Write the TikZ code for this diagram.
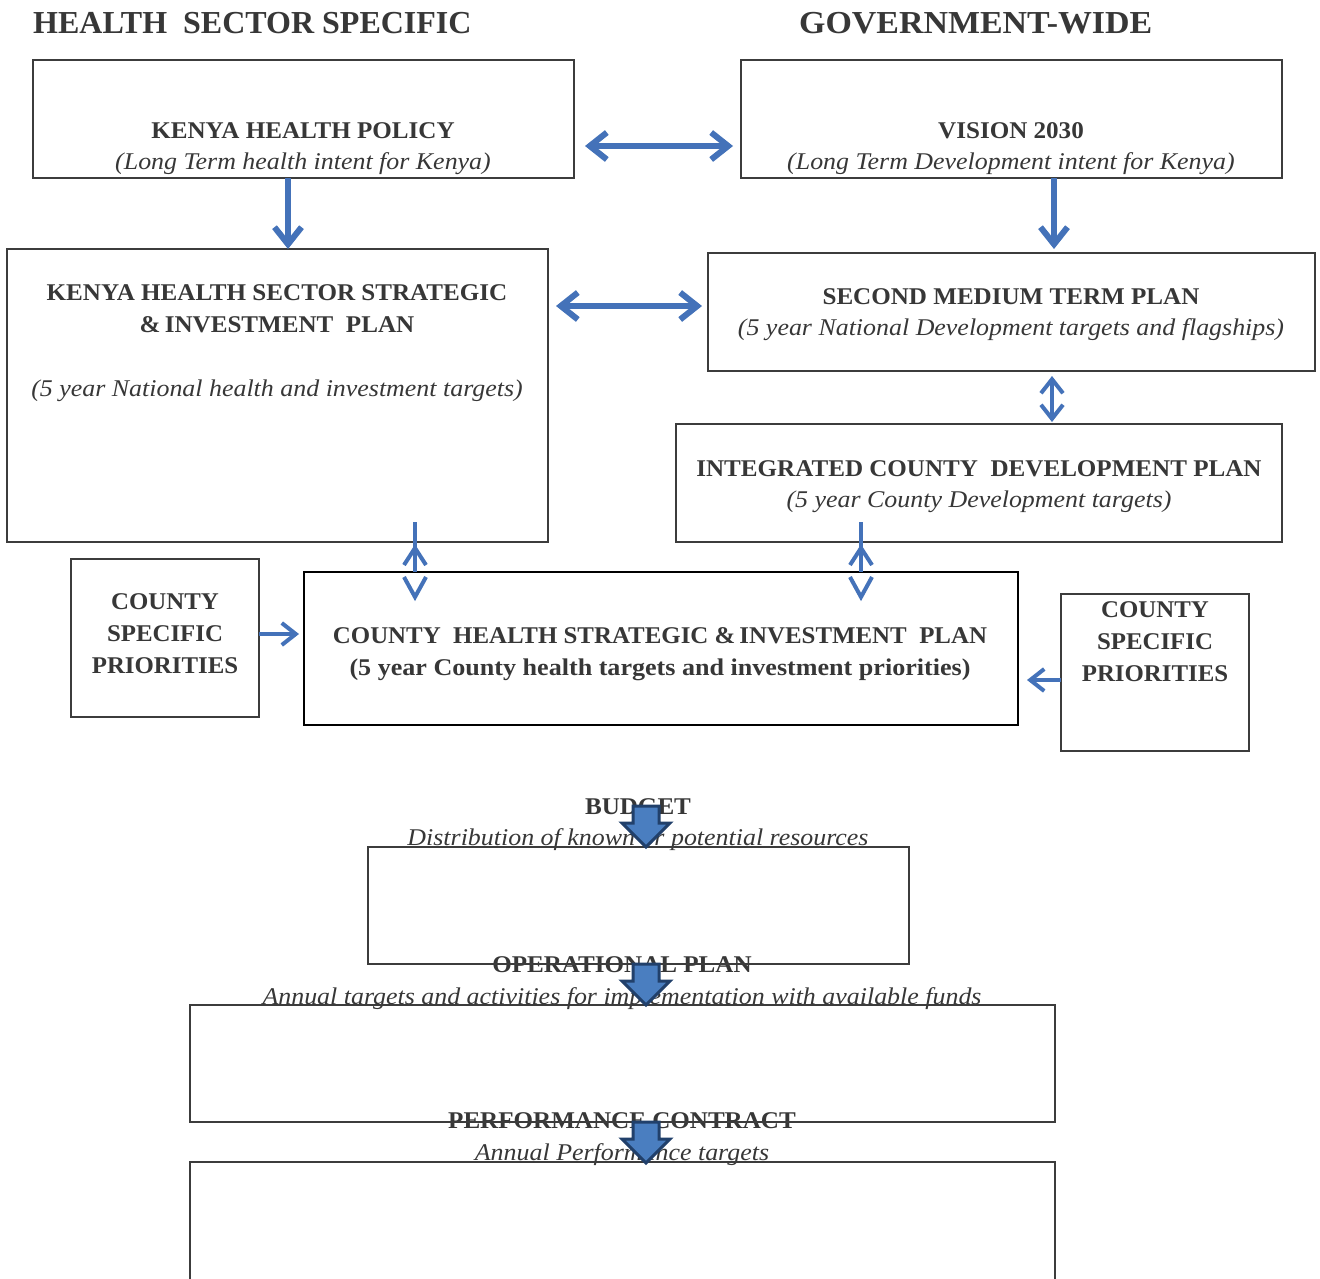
\documentclass[tikz,border=0pt]{standalone}
\usepackage{fontspec}
\usepackage{graphicx}
\setmainfont{Liberation Serif}
\usetikzlibrary{arrows.meta,calc}
\definecolor{txt}{RGB}{55,55,55}
\definecolor{arr}{RGB}{68,114,185}
\definecolor{blk}{RGB}{74,126,192}
\definecolor{blkd}{RGB}{33,64,107}
\definecolor{frame}{RGB}{60,60,60}
\newcommand\bx[1]{\scalebox{1.045}[1]{#1}}
\newcommand\ix[1]{\scalebox{1.08}[1]{#1}}
\tikzset{
  box/.style={draw=frame, line width=1.2pt, inner sep=0pt, outer sep=0pt},
  hd/.style={font=\fontsize{32}{36}\selectfont\bfseries, text=txt, inner sep=0pt, anchor=base west},
  bt/.style={font=\fontsize{24}{32}\selectfont\bfseries, text=txt, inner sep=0pt, anchor=base},
  it/.style={font=\fontsize{24}{32}\selectfont\itshape, text=txt, inner sep=0pt, anchor=base},
  ml/.style={font=\fontsize{24}{32}\selectfont\bfseries, text=txt, inner sep=0pt, align=center},
  thickarr/.style={draw=arr, line width=6pt, {Straight Barb[length=17pt,width=27pt]}-{Straight Barb[length=17pt,width=27pt]}},
  thickdown/.style={draw=arr, line width=6pt, -{Straight Barb[length=17pt,width=27pt]}},
  thinarr/.style={draw=arr, line width=4pt, -{Straight Barb[length=14pt,width=22pt]}},
  thindbl/.style={draw=arr, line width=4pt, {Straight Barb[length=14pt,width=22pt]}-{Straight Barb[length=14pt,width=22pt]}},
  chev/.style={draw=arr, line width=4pt, line join=miter},
  blockarrow/.style={fill=blk, draw=blkd, line width=3pt, line join=miter},
  blockarr/.pic={\path[blockarrow] (-13,0)--(13,0)--(13,17)--(24,17)--(0,41)--(-24,17)--(-13,17)--cycle;}
}
\begin{document}
\begin{tikzpicture}[x=1pt,y=-1pt]
\useasboundingbox (0,0) rectangle (1320,1278);
\clip (0,0) rectangle (1320,1278);
\fill[white] (0,0) rectangle (1320,1278);

% headings
\node[hd] (h1) at (33,33) {HEALTH\ \ SECTOR SPECIFIC};
\node[hd] (h2) at (799,33) {\scalebox{1.06}[1]{GOVERNMENT-WIDE}};

% boxes
\node[box, minimum width=541pt, minimum height=118pt] (khp) at (303.5,119) {};
\node[box, minimum width=541pt, minimum height=118pt] (vis) at (1011.5,119) {};
\node[box, minimum width=541pt, minimum height=293pt] (khssip) at (277.5,395.5) {};
\node[box, minimum width=607pt, minimum height=118pt] (smtp) at (1011.5,312) {};
\node[box, minimum width=606pt, minimum height=118pt] (icdp) at (979,483) {};
\node[box, minimum width=188pt, minimum height=158pt] (cspl) at (165,638) {};
\node[box, draw=black, line width=1.8pt, minimum width=714pt, minimum height=153pt] (chsip) at (661,648.5) {};
\node[box, minimum width=188pt, minimum height=157pt] (cspr) at (1155,672.5) {};
\node[box, minimum width=541pt, minimum height=117pt] (bud) at (638.5,905.5) {};
\node[box, minimum width=865pt, minimum height=117pt] (op) at (622.5,1063.5) {};
\node[box, minimum width=865pt, minimum height=200pt] (perf) at (622.5,1262) {};

% box texts
\node[bt] (khpT) at (303,138) {\bx{KENYA HEALTH POLICY}};
\node[it] (khpS) at (303,169.5) {\ix{(Long Term health intent for Kenya)}};
\node[bt] (visT) at (1011,138) {\bx{VISION 2030}};
\node[it] (visS) at (1011,169.5) {\ix{(Long Term Development intent for Kenya)}};
\node[bt] (khssipT1) at (277,300) {\bx{KENYA HEALTH SECTOR STRATEGIC}};
\node[bt] (khssipT2) at (277,332) {\bx{\&\,INVESTMENT\ \ PLAN}};
\node[it] (khssipS) at (277,396.5) {\ix{(5 year National health and investment targets)}};
\node[bt] (smtpT) at (1011,304) {\bx{SECOND MEDIUM TERM PLAN}};
\node[it] (smtpS) at (1011,335.5) {\ix{(5 year National Development\ targets and flagships)}};
\node[bt] (icdpT) at (979,476) {\bx{INTEGRATED COUNTY\ \ DEVELOPMENT PLAN}};
\node[it] (icdpS) at (979,507.5) {\ix{(5 year County Development targets)}};
\node[ml] (csplT) at (165,634) {\scalebox{1.035}[1]{COUNTY}\\\scalebox{1.035}[1]{SPECIFIC}\\\scalebox{1.035}[1]{PRIORITIES}};
\node[ml] (csprT) at (1155,642) {\scalebox{1.035}[1]{COUNTY}\\\scalebox{1.035}[1]{SPECIFIC}\\\scalebox{1.035}[1]{PRIORITIES}};
\node[bt] (chsipT1) at (660,643) {\scalebox{1.037}[1]{COUNTY\ \ HEALTH STRATEGIC \&\,INVESTMENT\ \ PLAN}};
\node[bt] (chsipT2) at (660,675) {\scalebox{1.087}[1]{(5 year County health targets and investment priorities)}};
\node[bt] (budT) at (638,814) {\bx{BUDGET}};
\node[it] (budS) at (638,845.5) {\ix{Distribution of known or potential resources}};
\node[bt] (opT) at (622,972) {\bx{OPERATIONAL PLAN}};
\node[it] (opS) at (622,1004.5) {\ix{Annual\ targets and activities for implementation with available funds}};
\node[bt] (perfT) at (622,1128) {\bx{PERFORMANCE CONTRACT}};
\node[it] (perfS) at (622,1160.5) {\ix{Annual\ Performance targets}};

% box frames that cross the texts, drawn over them
\draw[draw=frame, line width=1.2pt] (bud.south west) -- (bud.south east);
\draw[draw=frame, line width=1.2pt] (bud.north west) -- (bud.north east);
\draw[draw=frame, line width=1.2pt] (op.north west) -- (op.north east);
\draw[draw=frame, line width=1.2pt] (op.south west) -- (op.south east);
\draw[draw=frame, line width=1.2pt] (perf.north west) -- (perf.north east);

% connectors
\draw[thickarr] ([shift={(11pt,-27pt)}]khp.east) -- ([shift={(-8pt,-27pt)}]vis.west);
\draw[thickarr] ([shift={(8pt,89.5pt)}]khssip.east) -- ([shift={(-6pt,6pt)}]smtp.west);
\draw[thickdown] ([xshift=-15.5pt]khp.south) -- ([xshift=10.5pt]khssip.north);
\draw[thickdown] ([xshift=42.5pt]vis.south) -- ([shift={(42.5pt,4pt)}]smtp.north);
\draw[thindbl] ([shift={(40.5pt,-5pt)}]smtp.south) -- ([shift={(73pt,2pt)}]icdp.north);
\draw[thinarr] ([yshift=4pt]cspl.east) -- ([shift={(-5pt,14.5pt)}]chsip.west);
\draw[thinarr] ([yshift=-7.5pt]cspr.west) -- ([shift={(9pt,-31.5pt)}]chsip.east);

% double chevrons into county health plan
\coordinate (u1) at (415,548);
\coordinate (d1) at (415,597);
\coordinate (u2) at (861,548);
\coordinate (d2) at (861,597);
\draw[draw=arr, line width=4pt] ([shift={(137.5pt,20pt)}]khssip.south) -- ([xshift=-246pt]chsip.north);
\draw[draw=arr, line width=4pt] ([shift={(-118pt,20pt)}]icdp.south) -- ([xshift=200pt]chsip.north);
\draw[chev] ($(u1)+(-11,17)$) -- (u1) -- ($(u1)+(11,17)$);
\draw[chev] ($(d1)+(-11,-20)$) -- (d1) -- ($(d1)+(11,-20)$);
\draw[chev] ($(u2)+(-11,17)$) -- (u2) -- ($(u2)+(11,17)$);
\draw[chev] ($(d2)+(-11,-20)$) -- (d2) -- ($(d2)+(11,-20)$);

% block arrows
\pic (ba1) at (646,806) {blockarr};
\pic (ba2) at (646,964) {blockarr};
\pic (ba3) at (646,1122) {blockarr};
\end{tikzpicture}
\end{document}
